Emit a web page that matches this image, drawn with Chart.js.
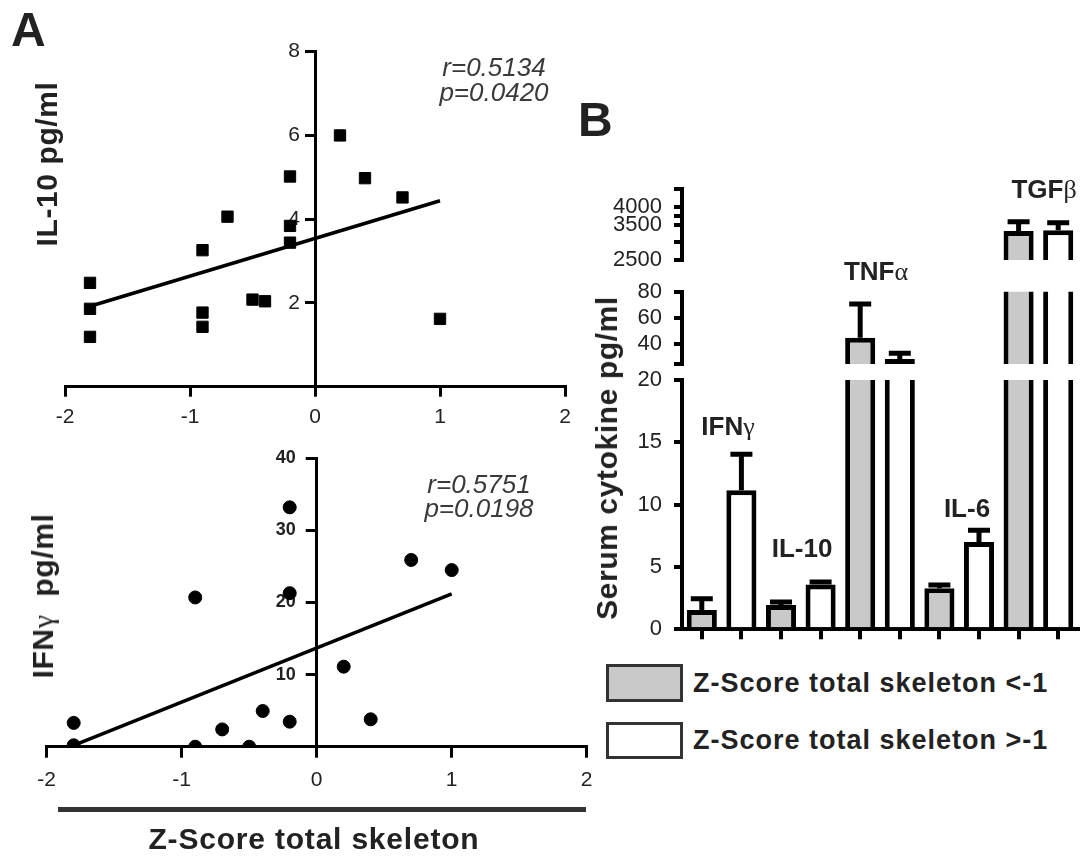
<!DOCTYPE html>
<html>
<head>
<meta charset="utf-8">
<title>Z-Score and serum cytokines</title>
<script src="https://cdn.jsdelivr.net/npm/chart.js@4.4.0/dist/chart.umd.min.js"></script>
<style>
  body { margin: 0; background: #fff; }
  #page { position: relative; width: 1086px; height: 859px; overflow: hidden; font-family: 'Liberation Sans', Arial, sans-serif; color: #222; }
  .plot { position: absolute; }
  .txt { position: absolute; white-space: nowrap; line-height: 1; }
  .bold { font-weight: bold; }
  .greek { font-family: 'Liberation Serif', 'DejaVu Serif', serif; font-weight: normal; }
  .vtitle { position: absolute; white-space: nowrap; line-height: 1; font-weight: bold; font-size: 30px; letter-spacing: 0.6px; transform: translate(-50%, -50%) rotate(-90deg); }
  .stat { position: absolute; white-space: nowrap; line-height: 1; font-style: italic; font-size: 26px; color: #3a3a3a; transform: translateX(-50%); }
  .cat { position: absolute; white-space: nowrap; line-height: 1; font-weight: bold; font-size: 26px; transform: translateX(-50%); }
  .swatch { position: absolute; box-sizing: border-box; border: 3px solid #333; }
</style>
</head>
<body>
<div id="page">
  <div class="plot" style="left:0; top:0; width:600px; height:440px;"><canvas id="il10Chart"></canvas></div>
  <div class="plot" style="left:0; top:440px; width:600px; height:419px;"><canvas id="ifngChart"></canvas></div>
  <div class="plot" style="left:580px; top:165px; width:506px; height:115px;"><canvas id="segTop"></canvas></div>
  <div class="plot" style="left:580px; top:270px; width:506px; height:105px;"><canvas id="segMid"></canvas></div>
  <div class="plot" style="left:580px; top:360px; width:506px; height:285px;"><canvas id="segLow"></canvas></div>

  <div class="txt bold" style="left:11px; top:6px; font-size:48px;">A</div>
  <div class="txt bold" style="left:578px; top:96px; font-size:48px;">B</div>

  <div class="vtitle" style="left:47px; top:164px;">IL-10 pg/ml</div>
  <div class="vtitle" style="left:43px; top:596px;">IFN<span class="greek">γ</span>&nbsp;&nbsp;pg/ml</div>
  <div class="vtitle" style="left:607px; top:458px;">Serum cytokine pg/ml</div>

  <div class="stat" style="left:494px; top:54px;">r=0.5134</div>
  <div class="stat" style="left:494px; top:79px;">p=0.0420</div>
  <div class="stat" style="left:479px; top:471px;">r=0.5751</div>
  <div class="stat" style="left:479px; top:495px;">p=0.0198</div>

  <div style="position:absolute; left:58px; top:807px; width:528px; height:5px; background:#333;"></div>
  <div class="txt bold" style="left:314px; top:824px; font-size:30px; letter-spacing:0.8px; transform:translateX(-50%);">Z-Score total skeleton</div>

  <div class="cat" style="left:728px; top:413px;">IFN<span class="greek">γ</span></div>
  <div class="cat" style="left:802px; top:535px;">IL-10</div>
  <div class="cat" style="left:876px; top:258px;">TNF<span class="greek">α</span></div>
  <div class="cat" style="left:967px; top:495px;">IL-6</div>
  <div class="cat" style="left:1044px; top:176px;">TGF<span class="greek">β</span></div>

  <div class="swatch" style="left:606px; top:664px; width:77px; height:38px; background:#c9c9c9;"></div>
  <div class="txt bold" id="legendLow" style="left:693px; top:670px; font-size:27px; letter-spacing:1px;"></div>
  <div class="swatch" style="left:606px; top:722px; width:77px; height:37px; background:#fff;"></div>
  <div class="txt bold" id="legendHigh" style="left:693px; top:727px; font-size:27px; letter-spacing:1px;"></div>
</div>

<script>
// Panel A: IL-10 vs Z-score
const zScoreIl10 = [-1.8, -1.8, -1.8, -0.9, -0.9, -0.9, -0.7, -0.5, -0.4, -0.2, -0.2, -0.2, 0.2, 0.4, 0.7, 1.0];
const il10Values = [2.48, 1.86, 1.19, 3.26, 1.77, 1.43, 4.06, 2.08, 2.04, 5.02, 3.84, 3.44, 6.0, 4.98, 4.52, 1.62];
const il10FitX = [-1.8, 1.0];
const il10FitY = [1.92, 4.44];

// Panel A: IFNg vs Z-score
const zScoreIfng = [-1.8, -1.8, -0.9, -0.9, -0.7, -0.5, -0.4, -0.2, -0.2, -0.2, 0.2, 0.4, 0.7, 1.0];
const ifngValues = [3.3, 0.2, 20.7, 0, 2.4, 0, 4.95, 3.47, 21.3, 33.2, 11.1, 3.8, 25.9, 24.5];
const ifngFitX = [-1.8, 1.0];
const ifngFitY = [0.2, 21.2];

// Panel B: serum cytokines, mean and SEM per group
const cytokines = ['IFNγ', 'IL-10', 'TNFα', 'IL-6', 'TGFβ'];
const groupLabels = ['Z-Score total skeleton <-1', 'Z-Score total skeleton >-1'];
const lowZMean = [1.55, 1.95, 45.0, 3.3, 3320];
const lowZSem = [0.9, 0.25, 25.6, 0.25, 260];
const highZMean = [11.15, 3.6, 28.8, 7.0, 3345];
const highZSem = [2.9, 0.2, 4.4, 0.95, 210];

// broken y axis: three segments
const lowTicks = [0, 5, 10, 15, 20];
const lowTickLabels = [0, 5, 10, 15, 20];
const midTicks = [25, 40, 60, 80];
const midTickLabels = [40, 60, 80];
const topTicks = [2500, 3000, 3500, 3750, 4000, 4500];
const topTickLabels = [2500, 3500, 4000];

const GREY = '#c9c9c9';

Chart.defaults.font.family = "'Liberation Sans', Arial, sans-serif";
Chart.defaults.color = '#222';
Chart.defaults.animation = false;
Chart.defaults.plugins.legend.display = false;
Chart.defaults.plugins.tooltip.enabled = false;

document.getElementById('legendLow').textContent = groupLabels[0];
document.getElementById('legendHigh').textContent = groupLabels[1];

// move the y axis so it crosses at x = 0 (labels are clipped to the scale box, so keep it wide)
const yAxisAtZero = {
  id: 'yAxisAtZero',
  afterLayout(chart) {
    const px = chart.scales.x.getPixelForValue(0);
    chart.scales.y.left = px - 80;
    chart.scales.y.right = px;
  }
};

function scatterChart(canvasId, cfg) {
  return new Chart(document.getElementById(canvasId), {
    type: 'scatter',
    data: {
      datasets: [
        {
          data: cfg.zs.map((z, i) => ({ x: z, y: cfg.values[i] })),
          pointStyle: cfg.pointStyle,
          pointRadius: cfg.radius,
          backgroundColor: '#000',
          borderColor: '#000',
          borderWidth: 1,
        },
        {
          type: 'line',
          data: cfg.fitX.map((x, i) => ({ x: x, y: cfg.fitY[i] })),
          borderColor: '#000',
          borderWidth: 3.5,
          pointRadius: 0,
          fill: false,
        },
      ],
    },
    options: {
      responsive: true,
      maintainAspectRatio: false,
      layout: { padding: cfg.padding },
      scales: {
        x: {
          type: 'linear',
          min: -2,
          max: 2,
          ticks: { stepSize: 1, autoSkip: false, padding: cfg.xPad, font: { size: 21 }, color: '#222' },
          grid: { drawOnChartArea: false, tickLength: cfg.xTick, lineWidth: 3, color: '#000' },
          border: { width: 3, color: '#000' },
          afterFit: s => { s.height = cfg.xHeight; s.paddingLeft = 0; s.paddingRight = 0; },
        },
        y: {
          min: 0,
          max: cfg.yMax,
          ticks: {
            stepSize: cfg.yStep,
            autoSkip: false,
            padding: cfg.yPad,
            font: cfg.yFont,
            color: '#222',
            callback: v => (v === 0 ? '' : v),
          },
          grid: { drawOnChartArea: false, tickLength: cfg.yTick, lineWidth: 3, color: '#000' },
          border: { width: 3, color: '#000' },
          afterFit: s => { s.width = 0; s.paddingTop = 0; s.paddingBottom = 0; },
        },
      },
    },
    plugins: [yAxisAtZero],
  });
}

// one slot per bar, so every bar gets its own tick
const slotLabels = cytokines.flatMap(c => [c + ' <-1', c + ' >-1']);
const lowSlots = cytokines.flatMap((c, i) => [lowZMean[i], null]);
const highSlots = cytokines.flatMap((c, i) => [null, highZMean[i]]);
const lowSemSlots = cytokines.flatMap((c, i) => [lowZSem[i], null]);
const highSemSlots = cytokines.flatMap((c, i) => [null, highZSem[i]]);
const semSlots = [lowSemSlots, highSemSlots];

const errorBars = {
  id: 'errorBars',
  afterDatasetsDraw(chart) {
    const ctx = chart.ctx;
    const area = chart.chartArea;
    const yScale = chart.scales.y;
    ctx.save();
    ctx.beginPath();
    ctx.rect(area.left, area.top, area.right - area.left, area.bottom - area.top);
    ctx.clip();
    ctx.strokeStyle = '#000';
    ctx.lineWidth = 5;
    chart.data.datasets.forEach((ds, di) => {
      const meta = chart.getDatasetMeta(di);
      meta.data.forEach((bar, i) => {
        const v = ds.data[i];
        const sem = semSlots[di][i];
        if (v == null || sem == null) return;
        const yTop = yScale.getPixelForValue(v + sem);
        const yBase = yScale.getPixelForValue(v);
        ctx.beginPath();
        ctx.moveTo(bar.x, yBase);
        ctx.lineTo(bar.x, yTop);
        ctx.moveTo(bar.x - 11, yTop);
        ctx.lineTo(bar.x + 11, yTop);
        ctx.stroke();
      });
    });
    ctx.restore();
  }
};

function segmentChart(canvasId, seg) {
  const barStyle = { borderColor: '#000', borderWidth: 5, skipNull: true, barPercentage: 0.76, categoryPercentage: 1, clip: 0 };
  return new Chart(document.getElementById(canvasId), {
    type: 'bar',
    data: {
      labels: slotLabels,
      datasets: [
        Object.assign({ label: groupLabels[0], data: lowSlots, backgroundColor: GREY }, barStyle),
        Object.assign({ label: groupLabels[1], data: highSlots, backgroundColor: '#fff' }, barStyle),
      ],
    },
    options: {
      responsive: true,
      maintainAspectRatio: false,
      layout: { padding: { left: 0, right: 8, top: seg.padTop, bottom: seg.padBottom } },
      scales: {
        x: seg.showX ? {
          ticks: { display: false },
          grid: { drawOnChartArea: false, offset: false, tickLength: 10, lineWidth: 4, color: '#000' },
          border: { width: 4, color: '#000' },
          afterFit: s => { s.height = seg.xHeight; s.paddingLeft = 0; s.paddingRight = 0; },
        } : { display: false },
        y: {
          min: seg.min,
          max: seg.max,
          afterBuildTicks: s => { s.ticks = seg.ticks.map(v => ({ value: v })); },
          ticks: {
            autoSkip: false,
            padding: 12,
            font: { size: 22 },
            color: '#222',
            callback: v => (seg.labels.includes(v) ? v : ''),
          },
          grid: { drawOnChartArea: false, tickLength: 8, lineWidth: 4, color: '#000' },
          border: { width: 4, color: '#000' },
          afterFit: s => { s.width = 102; s.paddingTop = 0; s.paddingBottom = 0; },
        },
      },
    },
    plugins: [errorBars],
  });
}

document.addEventListener('DOMContentLoaded', () => {
  scatterChart('il10Chart', {
    zs: zScoreIl10, values: il10Values, fitX: il10FitX, fitY: il10FitY,
    pointStyle: 'rect', radius: 8,
    padding: { left: 65, right: 35, top: 51.7, bottom: 0 },
    xHeight: 53.3, xTick: 10, xPad: 8,
    yMax: 8, yStep: 2, yTick: 10, yPad: 5, yFont: { size: 21 },
  });
  scatterChart('ifngChart', {
    zs: zScoreIfng, values: ifngValues, fitX: ifngFitX, fitY: ifngFitY,
    pointStyle: 'circle', radius: 6.5,
    padding: { left: 46.7, right: 13.3, top: 18.3, bottom: 62.3 },
    xHeight: 50, xTick: 11, xPad: 10,
    yMax: 40, yStep: 10, yTick: 11, yPad: 10, yFont: { size: 18, weight: 'bold' },
  });
  segmentChart('segTop', { min: 2500, max: 4500, ticks: topTicks, labels: topTickLabels, padTop: 24.3, padBottom: 20, showX: false });
  segmentChart('segMid', { min: 25, max: 80, ticks: midTicks, labels: midTickLabels, padTop: 21.7, padBottom: 11, showX: false });
  segmentChart('segLow', { min: 0, max: 20, ticks: lowTicks, labels: lowTickLabels, padTop: 20, padBottom: 0, showX: true, xHeight: 15.7 });
});
</script>
</body>
</html>
